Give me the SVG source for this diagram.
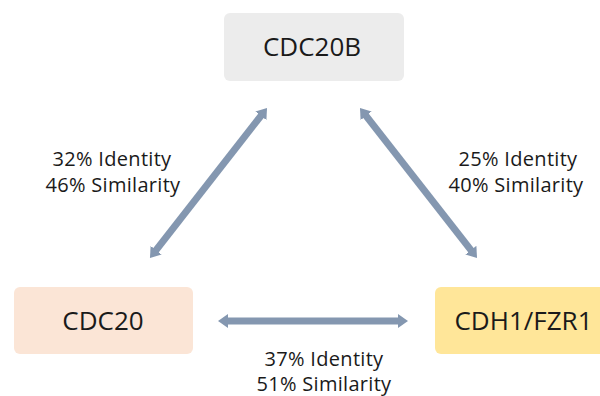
<svg xmlns="http://www.w3.org/2000/svg" width="600" height="396" viewBox="0 0 600 396">
<style>
.node{font-family:"Open Sans","Liberation Sans",sans-serif;font-size:26px;fill:#1a1a1a;text-anchor:middle}
.lbl{font-family:"Open Sans","Liberation Sans",sans-serif;font-size:20px;fill:#1a1a1a;text-anchor:middle;letter-spacing:0.3px}
.conn{stroke:#8497b0;stroke-width:7;fill:none;marker-start:url(#ah);marker-end:url(#ah)}
</style>
<defs>
<marker id="ah" markerUnits="userSpaceOnUse" markerWidth="10" markerHeight="14" refX="2" refY="7" orient="auto-start-reverse" viewBox="0 0 10 14">
<path d="M0,0 L10,7 L0,14 z" fill="#8497b0"/>
</marker>
</defs>
<rect width="600" height="396" fill="#ffffff"/>
<g id="connectors">
<path class="conn" d="M154.9,251.7 L262.1,114.3"/>
<path class="conn" d="M364.9,114.3 L472.1,251.7"/>
<path class="conn" d="M226,321 L400,321"/>
</g>
<g id="node-cdc20b">
<rect x="224" y="13" width="180" height="68" rx="6" fill="#ececec"/>
<text class="node" x="312" y="56">CDC20B</text>
</g>
<g id="node-cdc20">
<rect x="14" y="287" width="179" height="67" rx="6" fill="#fbe5d6"/>
<text class="node" x="103" y="330">CDC20</text>
</g>
<g id="node-cdh1">
<rect x="435" y="287" width="179" height="67" rx="6" fill="#ffe699"/>
<text class="node" x="523.5" y="330">CDH1/FZR1</text>
</g>
<g id="labels">
<text class="lbl" x="112" y="166">32% Identity</text>
<text class="lbl" x="113" y="192">46% Similarity</text>
<text class="lbl" x="518" y="166">25% Identity</text>
<text class="lbl" x="516" y="192">40% Similarity</text>
<text class="lbl" x="324" y="366">37% Identity</text>
<text class="lbl" x="324" y="391">51% Similarity</text>
</g>
</svg>
